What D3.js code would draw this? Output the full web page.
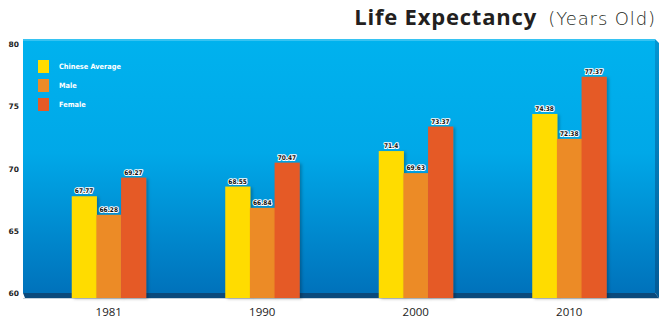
<!DOCTYPE html>
<html><head><meta charset="utf-8">
<script src="https://cdn.jsdelivr.net/npm/d3@7"></script>
<style>body{margin:0;background:#fff;}svg{display:block;}</style>
</head><body>
<script>
const years = ["1981","1990","2000","2010"];
const seriesNames = ["Chinese Average","Male","Female"];
const avgValues = [67.77, 68.55, 71.4, 74.38];
const maleValues = [66.28, 66.84, 69.63, 72.38];
const femaleValues = [69.27, 70.47, 73.37, 77.37];
const yTicks = [60,65,70,75,80];
const colors = ["#ffdc00","#ec8b27","#e55a26"];
const seriesValues = [avgValues, maleValues, femaleValues];

(function(){
const W=670,H=325;
const svg=d3.select("body").append("svg").attr("width",W).attr("height",H);
const defs=svg.append("defs");
const g1=defs.append("linearGradient").attr("id","bg").attr("x1",0).attr("y1",0).attr("x2",0).attr("y2",1);
g1.append("stop").attr("offset","0%").attr("stop-color","#00b2ee");
g1.append("stop").attr("offset","45%").attr("stop-color","#00a8e8");
g1.append("stop").attr("offset","100%").attr("stop-color","#0072bb");
const g2=defs.append("linearGradient").attr("id","side").attr("x1",0).attr("y1",0).attr("x2",0).attr("y2",1);
g2.append("stop").attr("offset","0%").attr("stop-color","#0496d2");
g2.append("stop").attr("offset","100%").attr("stop-color","#035a96");
const f=defs.append("filter").attr("id","sh").attr("x","-20%").attr("y","-20%").attr("width","160%").attr("height","160%");
f.append("feDropShadow").attr("dx",2).attr("dy",1).attr("stdDeviation",1.5).attr("flood-color","#000").attr("flood-opacity",0.25);

const x=d3.scaleBand().domain(years).range([32,646]);
const xs=d3.scaleBand().domain(seriesNames).range([-37,37]);
const y=d3.scaleLinear().domain([60,80]).range([293,44]);

const pl=23,pt=39,pr=655,pb=293;
svg.append("rect").attr("x",pl).attr("y",pt).attr("width",pr-pl).attr("height",pb-pt).attr("fill","url(#bg)");
svg.append("rect").attr("x",pl).attr("y",pt).attr("width",pr-pl).attr("height",2).attr("fill","#36c3f2");
svg.append("path").attr("d",`M${pr},${pt} L${pr+4},${pt+4} L${pr+4},${pb+5} L${pr},${pb}Z`).attr("fill","url(#side)");
svg.append("path").attr("d",`M${pl},${pb} L${pr},${pb} L${pr+4},${pb+5} L${pl+2},${pb+5}Z`).attr("fill","#0b4a7c");
svg.append("rect").attr("x",pl).attr("y",pb+5).attr("width",pr-pl+4).attr("height",1).attr("fill","#a0b4c4").attr("opacity",0.6);

svg.append("g").selectAll("text").data(yTicks).join("text")
  .attr("x",19).attr("y",d=>y(d)+3).attr("text-anchor","end")
  .attr("font-family","DejaVu Sans").attr("font-weight","bold").attr("font-size",7.5).attr("fill","#222")
  .text(d=>d);

const groups=svg.append("g").selectAll("g").data(years).join("g").attr("transform",d=>`translate(${x(d)+x.bandwidth()/2},0)`);
groups.each(function(yr,i){
  const gg=d3.select(this);
  seriesNames.forEach((s,j)=>{
    const v=seriesValues[j][i];
    gg.append("rect").attr("x",xs(s)).attr("y",y(v)).attr("width",xs.bandwidth()+0.5).attr("height",pb+5-y(v))
      .attr("fill",colors[j]).attr("filter","url(#sh)");
  });
  seriesNames.forEach((s,j)=>{
    const v=seriesValues[j][i];
    gg.append("text").attr("x",xs(s)+xs.bandwidth()/2).attr("y",y(v)-3).attr("text-anchor","middle")
      .attr("font-family","DejaVu Sans Condensed, DejaVu Sans").attr("font-weight","bold").attr("font-size",6.5)
      .attr("fill","#111").attr("stroke","#fff").attr("stroke-width",2).attr("paint-order","stroke").attr("stroke-linejoin","round")
      .text(v);
  });
});

svg.append("g").selectAll("text").data(years).join("text")
  .attr("x",d=>x(d)+x.bandwidth()/2).attr("y",316).attr("text-anchor","middle")
  .attr("font-family","Open Sans").attr("font-size",11.5).attr("fill","#222").text(d=>d);

const lg=svg.append("g").selectAll("g").data(seriesNames).join("g").attr("transform",(d,i)=>`translate(38,${60+i*19})`);
lg.append("rect").attr("width",11).attr("height",13).attr("fill",(d,i)=>colors[i]);
lg.append("text").attr("x",21).attr("y",9).attr("font-family","DejaVu Sans Condensed, DejaVu Sans").attr("font-weight","bold")
  .attr("font-size",7.3).attr("fill","#fff").text(d=>d);

svg.append("text").attr("x",537).attr("y",25).attr("text-anchor","end").attr("fill","#231f20")
  .attr("font-family","Open Sans").attr("font-weight","bold").attr("font-size",22).attr("letter-spacing",0.8)
  .text("Life Expectancy");
svg.append("text").attr("x",656).attr("y",25).attr("text-anchor","end").attr("fill","#231f20")
  .attr("font-family","DejaVu Sans").attr("font-weight","200").attr("font-size",18).attr("letter-spacing",0.9)
  .text("(Years Old)");
})();
</script>
</body></html>
